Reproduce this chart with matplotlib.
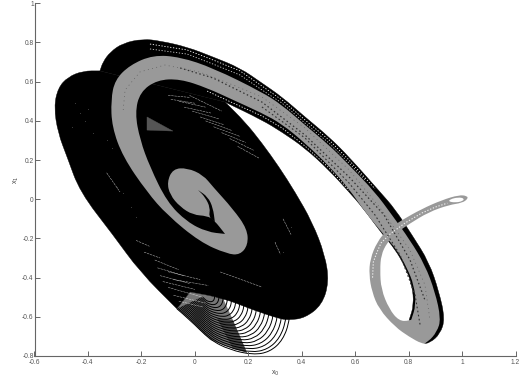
import matplotlib
matplotlib.use("Agg")
import matplotlib.pyplot as plt
from matplotlib.path import Path
from matplotlib.patches import PathPatch
import numpy as np

GRAY = "#999999"
AXC = "#666666"

x_ticks = [-0.6, -0.4, -0.2, 0, 0.2, 0.4, 0.6, 0.8, 1, 1.2]
y_ticks = [-0.8, -0.6, -0.4, -0.2, 0, 0.2, 0.4, 0.6, 0.8, 1]

# black attractor body outline (a repeated point keeps a corner sharp)
body_x = [-.355,-.355,-.418,-.475,-.512,-.527,-.512,-.478,-.430,-.306,-.205,-.067,-.067,-.018,-.018,.105,.218,.319,.353,.412,.476,.502,.487,.439,.375,.315,.251,.188,.113,.113]
body_y = [.655,.655,.655,.624,.568,.471,.338,.216,.037,-.182,-.371,-.559,-.559,-.473,-.473,-.504,-.565,-.611,-.616,-.606,-.539,-.422,-.284,-.116,.037,.165,.287,.394,.496,.496]

# black band outline
band_x = [-.355,-.355,-.344,-.317,-.269,-.194,-.130,-.029,.068,.169,.251,.326,.412,.502,.577,.693,.749,.813,.876,.914,.936,.918,.880,.850,.802,.802,.820,.813,.787,.749,.701,.626,.577,.502,.412,.326,.251,.113,.113]
band_y = [.655,.655,.700,.751,.797,.818,.808,.777,.726,.670,.593,.522,.420,.318,.216,.037,-.050,-.183,-.320,-.473,-.611,-.687,-.733,-.738,-.616,-.616,-.539,-.437,-.345,-.254,-.177,-.039,.037,.149,.262,.343,.405,.496,.496]

# gray spiral outline
ring_x = [-.314,-.299,-.243,-.156,-.055,.068,.251,.326,.412,.502,.577,.674,.738,.805,.861,.899,.921,.906,.873,.850,.809,.809,.828,.820,.794,.757,.708,.637,.577,.502,.412,.326,.251,.143,.046,-.055,-.141,-.205,-.224,-.205,-.168,-.104,-.029,.046,.113,.113,.072,.046,-.007,-.055,-.093,-.104,-.082,-.029,.031,.068,.143,.196,.199,.169,.121,.019,-.104,-.179,-.269,-.310]
ring_y = [.507,.609,.685,.736,.726,.670,.547,.481,.379,.277,.175,.037,-.081,-.208,-.335,-.473,-.611,-.677,-.728,-.738,-.619,-.619,-.539,-.437,-.351,-.259,-.182,-.065,.053,.170,.287,.384,.440,.507,.568,.614,.609,.547,.440,.303,.165,-.014,-.116,-.167,-.177,-.177,-.106,-.085,-.080,-.039,.022,.088,.155,.160,.124,.063,-.050,-.152,-.233,-.284,-.279,-.218,-.080,.037,.216,.369]

# gray tail loop outline
tail_x = [.870,.850,.802,.749,.689,.663,.652,.656,.682,.719,.775,.850,.925,.989,1.019,1.022,1.000,.951,.876,.802,.749,.719,.697,.693,.697,.727,.764,.802,.840,.860,.860]
tail_y = [-.735,-.738,-.702,-.651,-.560,-.473,-.386,-.305,-.218,-.157,-.106,-.049,-.004,.022,.017,.002,-.019,-.029,-.065,-.126,-.177,-.223,-.284,-.361,-.458,-.560,-.621,-.621,-.600,-.600,-.600]

# holes along the tail, and its hollow end
hole_x = [.665,.668,.682,.697,.731,.787,.850,.900,.945]
hole_y = [-.400,-.320,-.269,-.223,-.177,-.121,-.070,-.040,-.020]
end_x = [.955,.985,1.008,1.003,.975,.950]
end_y = [.000,.010,.005,-.010,-.017,-.012]

# black crescent inside the gray oval
cres_x = [.012,.012,.049,.068,.075,.075,.052,.058,.038]
cres_y = [.047,.047,.012,-.044,-.116,-.116,-.090,-.044,.012]

# outermost bottom arc and its read-off relative spacings
arc_x = np.array([-.067,-.018,.057,.132,.218,.281,.330,.356,.360])
arc_y = np.array([-.559,-.616,-.718,-.769,-.794,-.779,-.718,-.616,-.520])
arc_cx, arc_cy = .039, -.490
arc_scales = [1,.96,.91,.86,.81,.76,.71,.66,.61,.56,.51,.46,.41,.36,.31,.26,.21,.16,.11]
shade_x = [-.067,-.018,.105,.143,.143,.057,-.018]
shade_y = [-.559,-.473,-.504,-.618,-.763,-.718,-.616]
dark_x = [.083,.143,.196,.143]
dark_y = [-.608,-.618,-.784,-.763]

# hatch tracks in the band rims and gray band
rim_a_x = [-.168,-.029,.068,.169,.251,.326,.412,.502,.577,.674]
rim_a_y = [.792,.762,.711,.655,.578,.507,.405,.303,.200,.053]
rim_b_x = [-.168,-.029,.068,.169,.251,.326,.412,.502,.577,.637]
rim_b_y = [.767,.741,.690,.634,.558,.491,.389,.287,.185,.099]
rim_c_x = [.046,.143,.251,.326,.412,.502,.577]
rim_c_y = [.552,.491,.425,.364,.272,.160,.045]
mid_x = [-.055,.068,.251,.412,.577,.708,.805,.861]
mid_y = [.670,.619,.496,.328,.114,-.080,-.309,-.514]
track_x = [-.268,-.261,-.205,-.112,.019,.143,.251,.412,.577,.693,.805,.861,.880]
track_y = [.456,.558,.650,.685,.649,.583,.522,.364,.150,-.044,-.259,-.437,-.616]
low_x = [.251,.412,.577,.674,.768,.824,.843]
low_y = [.471,.313,.083,-.080,-.284,-.488,-.641]

# white streaks in the black body: x0, x1, y0, y1
streaks = [
    (-.10,-.02,.53,.52),(-.09,.00,.51,.49),(-.06,.04,.50,.47),(-.04,.06,.47,.44),
    (-.01,.09,.45,.41),(.02,.11,.42,.38),(.04,.14,.40,.35),(.07,.17,.37,.32),
    (.10,.19,.34,.29),(.13,.22,.31,.25),(.16,.24,.27,.21),(-.02,.10,.53,.45),
    (-.22,-.17,-.21,-.24),(-.19,-.13,-.27,-.30),(-.15,-.06,-.31,-.36),(-.14,-.04,-.35,-.39),
    (-.13,-.02,-.39,-.43),(-.12,.00,-.42,-.46),(-.10,.03,-.45,-.50),(-.08,.04,-.49,-.53),
    (-.06,.03,-.52,-.55),(-.10,.02,-.37,-.41),(-.08,.05,-.41,-.44),(.095,.251,-.371,-.448),
    (.33,.36,-.10,-.18),(.30,.32,-.22,-.28),(-.33,-.28,.135,.037),
]
tri_x = [-.179,-.179,-.082]
tri_y = [.420,.353,.348]
speck_x = [-.45,-.43,-.41,-.40,-.46,-.38,-.33,-.31,-.29,-.27,-.24,-.22,-.10,-.07,.30,.33,.36]
speck_y = [.49,.44,.40,.46,.37,.34,.30,.26,.06,.03,-.04,-.09,-.03,.00,-.22,-.27,-.14]


def smooth_fill(ax, xs, ys, **kw):
    """Closed outline using the read points as quadratic Bezier control points."""
    pts = np.column_stack([xs, ys])
    mids = (pts + np.roll(pts, -1, axis=0)) / 2
    verts = [mids[-1]]
    codes = [Path.MOVETO]
    for p, m in zip(pts, mids):
        verts += [p, m]
        codes += [Path.CURVE3, Path.CURVE3]
    return ax.add_patch(PathPatch(Path(verts, codes), **kw))


def smooth_line(ax, xs, ys, **kw):
    """Open curve using the read points as quadratic Bezier control points."""
    pts = np.column_stack([xs, ys])
    verts = [pts[0]]
    codes = [Path.MOVETO]
    for i in range(1, len(pts) - 1):
        end = pts[-1] if i == len(pts) - 2 else (pts[i] + pts[i + 1]) / 2
        verts += [pts[i], end]
        codes += [Path.CURVE3, Path.CURVE3]
    return ax.add_patch(PathPatch(Path(verts, codes), fc="none", **kw))


fig = plt.figure(figsize=(5.24, 3.85), dpi=100)
ax = fig.add_axes([34.5/524, 1-356/385, 481/524, 352.7/385])
ax.set_xlim(-0.6, 1.2)
ax.set_ylim(-0.8, 1)

ax.fill(shade_x, shade_y, color="#777777", lw=0, zorder=0.5)
ax.fill(dark_x, dark_y, color="#444444", lw=0, zorder=0.5)
for s in arc_scales:
    smooth_line(ax, arc_cx + s*(arc_x-arc_cx), arc_cy + s*(arc_y-arc_cy), ec="k", lw=0.7, zorder=1)

smooth_fill(ax, body_x, body_y, fc="k", ec="k", lw=0.3, zorder=2)
smooth_fill(ax, band_x, band_y, fc="k", ec="k", lw=0.3, zorder=2)
ax.plot(rim_a_x, rim_a_y, color="w", lw=0.6, ls=(0, (1.5, 2)), zorder=3)
ax.plot(rim_b_x, rim_b_y, color="#cccccc", lw=0.6, ls=(0, (1.5, 2)), zorder=3)
ax.plot(rim_c_x, rim_c_y, color="w", lw=0.6, ls=(0, (1.5, 2)), zorder=3)
for x0, x1, y0, y1 in streaks:
    ax.plot([x0, x1], [y0, y1], color="w", lw=0.35, ls=(0, (5, 1.5)), alpha=0.75, zorder=3)
ax.fill(tri_x, tri_y, color="#555555", lw=0.3, zorder=3)
ax.plot(speck_x, speck_y, ls="none", marker="s", ms=0.5, mec="none", color="#777777", zorder=3)

smooth_fill(ax, ring_x, ring_y, fc=GRAY, ec="none", zorder=4)
smooth_fill(ax, tail_x, tail_y, fc=GRAY, ec="none", zorder=4)
ax.plot(hole_x, hole_y, color="#eeeeee", lw=0.8, ls=(0, (1.2, 1.5)), zorder=5)
smooth_fill(ax, end_x, end_y, fc="w", ec="none", zorder=5)
smooth_fill(ax, cres_x, cres_y, fc="k", ec="none", zorder=5)
ax.plot(mid_x, mid_y, color="#333333", lw=0.9, ls=(0, (1.2, 2)), zorder=5)
ax.plot(track_x, track_y, color="#555555", lw=0.5, ls=(0, (1.2, 5)), zorder=5)
ax.plot(low_x, low_y, color="#333333", lw=0.8, ls=(0, (1.5, 2.2)), zorder=5)

for side in ("top", "right"):
    ax.spines[side].set_visible(False)
for side in ("left", "bottom"):
    ax.spines[side].set_color(AXC)
    ax.spines[side].set_linewidth(0.8)

ax.set_xticks(x_ticks)
ax.set_yticks(y_ticks)
ax.set_xticklabels([f"{v:g}" for v in x_ticks], family="Liberation Sans")
ax.set_yticklabels([f"{v:g}" for v in y_ticks], family="Liberation Sans")
ax.tick_params(direction="in", length=3.4, width=0.7, color=AXC, labelcolor="#555555", labelsize=4.8)
ax.tick_params(axis="x", pad=2)
ax.tick_params(axis="y", pad=0.6)
ax.set_xlabel(r"x$_0$", fontsize=5, color="#444444", labelpad=2, family="Liberation Sans")
ax.set_ylabel(r"x$_1$", fontsize=5, color="#444444", labelpad=1, family="Liberation Sans")

fig.savefig("out.png", dpi=100)
